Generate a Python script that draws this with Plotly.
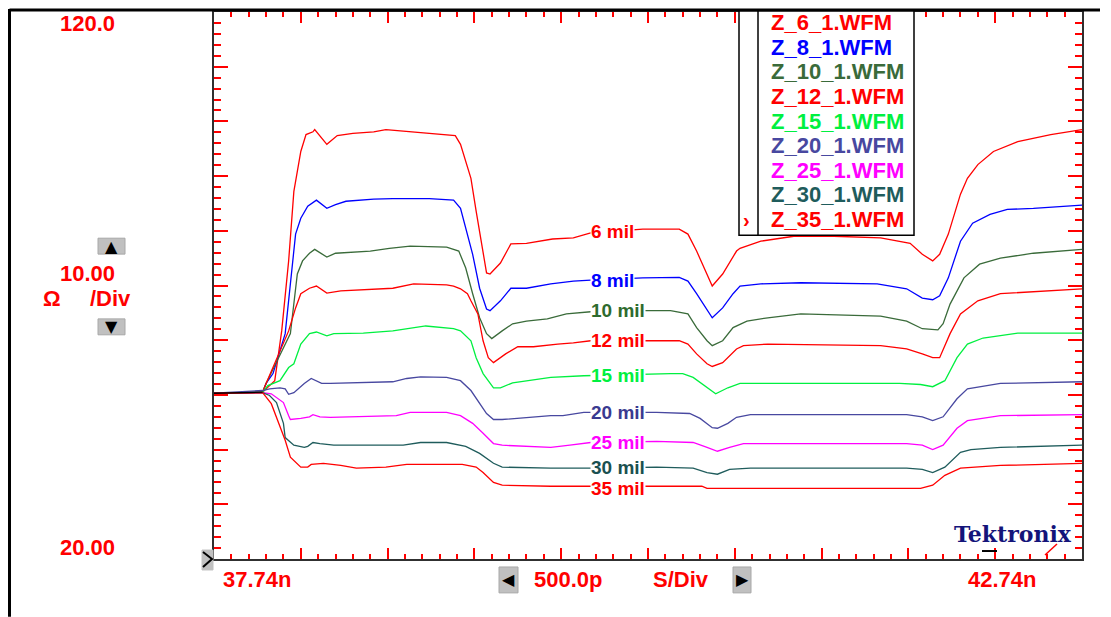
import plotly.graph_objects as go

# ---------------- data (time in ns, impedance in ohm) ----------------
x_min, x_max = 37.74, 42.74      # 500 ps/div
y_min, y_max = 20.0, 120.0       # 10 ohm/div

series_names = ["6 mil", "8 mil", "10 mil", "12 mil", "15 mil", "20 mil", "25 mil", "30 mil", "35 mil"]
file_names = ["Z_6_1.WFM", "Z_8_1.WFM", "Z_10_1.WFM", "Z_12_1.WFM", "Z_15_1.WFM",
              "Z_20_1.WFM", "Z_25_1.WFM", "Z_30_1.WFM", "Z_35_1.WFM"]
colors = ["#FF0000", "#0000FF", "#3A6B3A", "#FF0000", "#00F040",
          "#4848A0", "#FF00FF", "#1F5C5C", "#FF0000"]

# where each "x mil" label sits (time, impedance)
label_t = 39.905
label_z = [79.9, 71.0, 65.4, 59.9, 53.5, 46.8, 41.3, 36.8, 32.9]

t_6 = [37.74, 38.02, 38.09, 38.13, 38.17, 38.20, 38.24, 38.27, 38.31, 38.32, 38.39, 38.45, 38.54, 38.66, 38.73,
       38.89, 39.08, 39.13, 39.16, 39.22, 39.25, 39.28, 39.31, 39.33, 39.39, 39.45, 39.54, 39.69, 39.81, 39.91,
       40.21, 40.42, 40.47, 40.52, 40.58, 40.61, 40.67, 40.75, 40.77, 40.89, 41.08, 41.31, 41.58, 41.75, 41.82,
       41.88, 41.92, 41.97, 42.04, 42.08, 42.14, 42.23, 42.37, 42.56, 42.74]
z_6 = [50.3, 50.5, 52.6, 61.7, 74.5, 87.2, 94.5, 97.6, 98.1, 98.5, 95.8, 97.4, 97.8, 98.1, 98.5,
       98.1, 97.6, 97.4, 95.8, 89.6, 83.6, 77.6, 72.3, 72.1, 74.1, 77.6, 77.7, 78.5, 78.7, 79.6,
       80.3, 80.3, 79.4, 76.3, 72.1, 69.9, 72.1, 76.3, 76.8, 78.1, 79.0, 79.0, 78.7, 77.7, 75.7,
       74.5, 75.7, 79.4, 86.7, 89.6, 92.1, 94.5, 96.3, 97.6, 98.5]

t_8 = [37.74, 38.02, 38.04, 38.08, 38.15, 38.18, 38.21, 38.24, 38.28, 38.33, 38.39, 38.44, 38.50, 38.66, 38.77,
       38.98, 39.12, 39.16, 39.19, 39.23, 39.27, 39.31, 39.33, 39.39, 39.45, 39.54, 39.68, 39.81, 39.91, 40.21,
       40.42, 40.47, 40.52, 40.58, 40.61, 40.67, 40.73, 40.77, 40.89, 41.12, 41.56, 41.73, 41.82, 41.88, 41.92,
       41.97, 42.04, 42.11, 42.21, 42.31, 42.46, 42.74]
z_8 = [50.3, 50.5, 52.1, 53.9, 61.2, 70.8, 79.4, 82.3, 84.5, 85.6, 84.1, 84.8, 85.4, 85.8, 85.9,
       85.9, 85.6, 84.1, 80.5, 75.7, 69.5, 65.7, 65.4, 67.2, 69.5, 69.5, 70.3, 70.8, 71.0, 71.4,
       71.5, 70.8, 68.5, 65.4, 64.1, 65.9, 68.5, 69.9, 70.3, 70.5, 70.3, 69.4, 67.7, 67.4, 68.1,
       71.4, 78.1, 81.4, 83.0, 83.9, 84.1, 84.7]

t_10 = [37.74, 38.02, 38.04, 38.18, 38.22, 38.25, 38.29, 38.32, 38.39, 38.44, 38.64, 38.75, 38.87, 39.08, 39.15,
        39.19, 39.23, 39.27, 39.31, 39.34, 39.40, 39.46, 39.54, 39.66, 39.77, 39.91, 40.21, 40.37, 40.47, 40.52,
        40.58, 40.61, 40.67, 40.73, 40.81, 40.93, 41.12, 41.58, 41.73, 41.82, 41.91, 41.94, 41.98, 42.06, 42.15,
        42.27, 42.46, 42.74]
z_10 = [50.3, 50.5, 52.1, 61.2, 72.1, 74.5, 75.9, 76.6, 75.2, 75.9, 76.3, 76.8, 77.2, 77.0, 76.3,
        73.2, 68.5, 64.1, 61.2, 60.3, 61.7, 63.0, 63.5, 63.9, 64.8, 65.2, 65.4, 65.4, 64.8, 62.3,
        59.9, 59.0, 59.9, 62.3, 63.5, 64.1, 64.8, 64.4, 63.5, 62.1, 61.9, 63.0, 66.6, 71.4, 73.9,
        75.0, 75.9, 76.6]

t_12 = [37.74, 38.02, 38.04, 38.17, 38.21, 38.24, 38.29, 38.33, 38.39, 38.47, 38.77, 38.89, 39.08, 39.12, 39.16,
        39.20, 39.22, 39.26, 39.29, 39.32, 39.35, 39.42, 39.49, 39.58, 39.72, 39.81, 39.91, 40.25, 40.42, 40.47,
        40.52, 40.58, 40.61, 40.67, 40.75, 40.79, 40.93, 41.58, 41.73, 41.82, 41.88, 41.92, 41.98, 42.04, 42.14,
        42.27, 42.56, 42.74]
z_12 = [50.3, 50.5, 52.1, 61.7, 65.9, 68.5, 69.5, 69.9, 68.6, 69.0, 69.5, 70.3, 70.1, 69.9, 69.4,
        68.5, 67.2, 64.8, 59.9, 56.8, 55.9, 57.5, 58.8, 58.8, 59.3, 59.5, 59.9, 59.9, 59.9, 59.3,
        57.5, 55.7, 55.2, 55.9, 58.4, 59.0, 59.3, 59.0, 58.4, 57.5, 56.8, 56.8, 61.2, 64.8, 67.2,
        68.5, 69.0, 69.4]

t_15 = [37.74, 38.02, 38.05, 38.12, 38.17, 38.20, 38.24, 38.29, 38.33, 38.39, 38.43, 38.60, 38.77, 38.96, 39.12,
        39.16, 39.22, 39.25, 39.29, 39.35, 39.39, 39.46, 39.68, 39.87, 40.37, 40.44, 40.50, 40.58, 40.63, 40.70,
        40.77, 41.69, 41.81, 41.88, 41.95, 42.02, 42.08, 42.17, 42.37, 42.74]
z_15 = [50.3, 50.5, 51.7, 52.6, 55.0, 55.7, 59.3, 61.2, 61.5, 60.8, 61.2, 61.3, 61.7, 62.6, 62.1,
        61.7, 59.9, 56.8, 53.9, 51.3, 51.3, 52.2, 53.2, 53.5, 53.9, 53.9, 53.2, 51.3, 50.2, 51.3,
        52.1, 52.1, 51.9, 51.5, 52.6, 56.8, 59.3, 60.4, 61.3, 61.3]

t_20 = [37.74, 38.02, 38.06, 38.12, 38.15, 38.17, 38.20, 38.26, 38.30, 38.33, 38.36, 38.41, 38.60, 38.77, 38.85,
        38.93, 39.08, 39.16, 39.22, 39.27, 39.31, 39.35, 39.40, 39.68, 39.75, 39.87, 40.29, 40.48, 40.54, 40.61,
        40.64, 40.70, 40.75, 40.83, 41.73, 41.82, 41.88, 41.94, 42.02, 42.08, 42.27, 42.74]
z_20 = [50.3, 50.8, 51.1, 51.3, 51.1, 50.1, 50.4, 52.1, 53.0, 52.6, 52.1, 52.1, 52.2, 52.4, 53.0,
        53.3, 53.2, 52.6, 50.8, 48.4, 46.6, 45.5, 45.5, 46.2, 46.2, 46.8, 46.8, 46.6, 45.7, 44.0,
        43.9, 44.8, 45.9, 46.4, 46.4, 46.0, 45.3, 46.0, 49.3, 51.1, 52.1, 52.4]

t_25 = [37.74, 38.02, 38.07, 38.11, 38.14, 38.17, 38.18, 38.24, 38.29, 38.31, 38.35, 38.41, 38.60, 38.79, 38.87,
        39.08, 39.16, 39.23, 39.29, 39.35, 39.40, 39.68, 39.79, 39.91, 40.29, 40.50, 40.58, 40.64, 40.71, 40.79,
        41.73, 41.82, 41.88, 41.94, 42.02, 42.08, 42.27, 42.74]
z_25 = [50.3, 50.4, 50.2, 49.3, 48.6, 46.2, 45.5, 45.7, 46.0, 46.4, 46.0, 45.9, 46.0, 46.2, 46.8,
        46.8, 46.2, 44.8, 43.0, 41.1, 40.8, 40.4, 40.8, 41.3, 41.5, 41.3, 40.4, 39.7, 40.4, 41.1,
        41.1, 40.8, 40.0, 40.8, 43.9, 45.3, 46.2, 46.4]

t_30 = [37.74, 38.02, 38.06, 38.10, 38.14, 38.15, 38.20, 38.26, 38.28, 38.31, 38.35, 38.43, 38.83, 38.93, 39.08,
        39.19, 39.27, 39.35, 39.40, 39.68, 39.91, 40.29, 40.50, 40.58, 40.64, 40.71, 40.83, 41.73, 41.82, 41.88,
        41.95, 42.04, 42.10, 42.27, 42.74]
z_30 = [50.3, 50.4, 49.9, 48.6, 44.8, 42.2, 40.8, 40.4, 40.6, 41.3, 41.1, 40.8, 40.8, 41.3, 41.3,
        40.6, 39.3, 37.5, 36.8, 36.6, 36.6, 36.8, 36.6, 35.8, 35.5, 36.4, 36.6, 36.6, 36.4, 35.8,
        36.8, 39.5, 40.0, 40.4, 40.8]

t_35 = [37.74, 38.02, 38.07, 38.12, 38.15, 38.18, 38.24, 38.28, 38.30, 38.37, 38.47, 38.56, 38.73, 38.85, 39.17,
        39.25, 39.29, 39.35, 39.40, 39.68, 40.29, 40.55, 40.58, 40.83, 41.81, 41.88, 41.95, 42.04, 42.27, 42.74]
z_35 = [50.3, 50.4, 48.4, 44.0, 41.7, 38.6, 36.8, 36.8, 37.3, 37.5, 37.1, 36.6, 36.8, 37.3, 37.3,
        36.8, 35.8, 34.0, 33.5, 33.3, 33.3, 33.3, 32.9, 32.9, 32.9, 33.5, 35.3, 36.6, 37.1, 37.5]

# reference (black) trace along the 50 ohm baseline
t_ref = [37.74, 38.02]
z_ref = [50.3, 50.5]

t_all = [t_6, t_8, t_10, t_12, t_15, t_20, t_25, t_30, t_35]
z_all = [z_6, z_8, z_10, z_12, z_15, z_20, z_25, z_30, z_35]

# ---------------- figure ----------------
W, H = 1111, 617
L, R, T, B = 214, 1082, 10, 559


def px(xp):
    return (xp - L) / (R - L)


def py(yp):
    return (B - yp) / (B - T)


fig = go.Figure()
for name, t, z, c in zip(series_names, t_all, z_all, colors):
    fig.add_trace(go.Scatter(x=t, y=z, mode="lines", name=name,
                             line=dict(color=c, width=1.3), hoverinfo="skip"))
fig.add_trace(go.Scatter(x=t_ref, y=z_ref, mode="lines", line=dict(color="black", width=1.3),
                         hoverinfo="skip"))

label_font = "Liberation Sans, Arial, sans-serif"
ann = []
label_colors = ["#FF0000", "#0000FF", "#2E6B2E", "#FF0000", "#00F040",
                "#3A3A90", "#FF00FF", "#1A5050", "#FF0000"]
for name, yv, c in zip(series_names, label_z, label_colors):
    ann.append(dict(x=label_t, y=yv, xref="x", yref="y", text="<b>%s</b>" % name,
                    showarrow=False, xanchor="left", yanchor="middle",
                    font=dict(family=label_font, size=19, color=c),
                    bgcolor="white", borderpad=0))

red = "#FF0000"
big = dict(family=label_font, size=22, color=red)


def txt(xp, yp, s, font, xanchor="center"):
    ann.append(dict(x=px(xp), y=py(yp), xref="paper", yref="paper", text=s, showarrow=False,
                    xanchor=xanchor, yanchor="middle", font=font))


txt(87, 22, "<b>%.1f</b>" % y_max, big)
txt(87, 547, "<b>%.2f</b>" % y_min, big)
txt(87, 272, "<b>%.2f</b>" % 10.0, big)
txt(52, 298, "<b>Ω</b>", big)
txt(110, 298, "<b>/Div</b>", big)
txt(257, 580, "<b>%.2fn</b>" % x_min, big)
txt(1002, 580, "<b>%.2fn</b>" % x_max, big)
txt(568, 580, "<b>500.0p</b>", big)
txt(681, 580, "<b>S/Div</b>", big)
txt(1013, 534, "<b>Tektronix</b>", dict(family="DejaVu Serif", size=22, color="#14147A"))

# legend (file list)
for i, (fn, c) in enumerate(zip(file_names, colors)):
    txt(769, 21 + 24.6 * i, "<b>%s</b>" % fn, dict(family=label_font, size=22, color=c), xanchor="left")
txt(746, 219, "<b>›</b>", dict(family=label_font, size=20, color=red))

# buttons triangles
tri = dict(family="DejaVu Sans", size=16, color="black")
txt(111.5, 245, "▲", tri)
txt(111.5, 326, "▼", tri)
txt(508.5, 580, "◀", tri)
txt(742, 580, "▶", tri)

shapes = []


def rect(x0, y0, x1, y1, fill, line_color, lw=1):
    shapes.append(dict(type="rect", xref="paper", yref="paper", x0=px(x0), x1=px(x1),
                       y0=py(y0), y1=py(y1), fillcolor=fill, line=dict(color=line_color, width=lw),
                       layer="above"))


def seg(x0, y0, x1, y1, color, lw):
    shapes.append(dict(type="line", xref="paper", yref="paper", x0=px(x0), x1=px(x1),
                       y0=py(y0), y1=py(y1), line=dict(color=color, width=lw), layer="above"))


# outer frame
seg(9.5, 8, 1100, 8, "black", 3)
seg(9.5, 7, 9.5, 617, "black", 3)
# buttons
rect(98, 237, 125, 253, "#C0C0C0", "#A8A8A8")
rect(98, 318, 125, 334, "#C0C0C0", "#A8A8A8")
rect(499, 567, 518, 593, "#C0C0C0", "#A8A8A8")
rect(733, 567, 751, 593, "#C0C0C0", "#A8A8A8")
rect(202, 550, 213, 570, "#C0C0C0", "#C0C0C0")
shapes.append(dict(type="path", xref="paper", yref="paper",
                   path="M %f,%f L %f,%f L %f,%f" % (px(203), py(552), px(212), py(559), px(203), py(567)),
                   line=dict(color="black", width=2), layer="above"))
# legend box
rect(739, 9, 914, 234, "white", "black", 1.5)
seg(758, 9, 758, 234, "black", 1.5)
# Tektronix marks
seg(982, 551, 997, 551, "black", 2)
seg(1045, 555, 1057, 544, red, 1.5)

fig.update_layout(
    width=W, height=H, autosize=False,
    margin=dict(l=L, r=W - R, t=T, b=H - B, pad=0),
    paper_bgcolor="white", plot_bgcolor="white", showlegend=False,
    annotations=ann, shapes=shapes,
    xaxis=dict(range=[x_min, x_max], showgrid=False, zeroline=False, showticklabels=False,
               showline=True, linecolor="#303030", linewidth=2, mirror="allticks",
               ticks="inside", tick0=x_min, dtick=0.5, ticklen=11, tickwidth=1.5, tickcolor=red,
               minor=dict(ticks="inside", dtick=0.1, tick0=x_min, ticklen=5, tickwidth=1.5, tickcolor=red,
                          showgrid=False)),
    yaxis=dict(range=[y_min, y_max], showgrid=False, zeroline=False, showticklabels=False,
               showline=True, linecolor="#303030", linewidth=2, mirror="allticks",
               ticks="inside", tick0=y_min, dtick=10, ticklen=14, tickwidth=1.5, tickcolor=red,
               minor=dict(ticks="inside", dtick=2, ticklen=7, tickwidth=1.5, tickcolor=red, showgrid=False)),
)

fig.write_html("out.html", config={"displayModeBar": False},
               post_script="document.body.style.margin='0px';document.body.style.overflow='hidden';")
